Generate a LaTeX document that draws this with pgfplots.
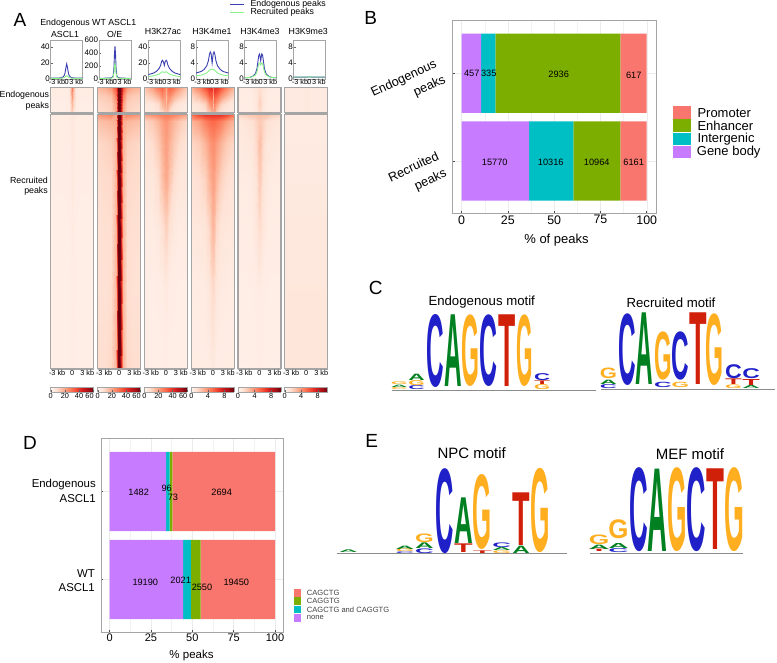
\documentclass[border=0pt]{standalone}
\usepackage{graphicx}
\usepackage{fontspec}
\setmainfont{Liberation Sans}
\newfontfamily\Lfont{Liberation Sans}[BoldFont={Liberation Sans Bold}]
\usepackage{pgfplots}
\usepackage{pgfplotstable}
\pgfplotsset{compat=1.18}
\definecolor{frm}{RGB}{165,165,165}
\definecolor{endo}{RGB}{58,62,176}
\definecolor{recr}{RGB}{160,240,160}
\definecolor{cPro}{RGB}{248,118,109}
\definecolor{cEnh}{RGB}{124,174,0}
\definecolor{cInt}{RGB}{0,191,196}
\definecolor{cGen}{RGB}{199,124,255}
\definecolor{lC}{RGB}{32,32,200}
\definecolor{lA}{RGB}{0,128,32}
\definecolor{lG}{RGB}{255,174,32}
\definecolor{lT}{RGB}{208,32,10}
\newcommand\fs[1]{\fontsize{#1}{#1}\selectfont}
\pgfplotsset{
  colormap={reds}{rgb255=(255,245,240) rgb255=(254,224,210) rgb255=(252,187,161) rgb255=(252,146,114) rgb255=(251,106,74) rgb255=(239,59,44) rgb255=(203,24,29) rgb255=(165,15,21) rgb255=(103,0,13)},
  every axis/.append style={/pgf/number format/assume math mode=true},
  PX/.style 2 args={at={(#1pt,{(663-(#2))*1pt})},anchor=south west,scale only axis},
}
% ---------- small line panels
\newcommand\LP[5]{% xleft, ymax, yticks, xwidth, table
\begin{axis}[PX={#1}{79},width=#4pt,height=39pt,xmin=-3,xmax=3,ymin=0,ymax=#2,
  ytick={#3},xtick={-1.8,0,1.8},xticklabels={-3 kb,0,3 kb},
  axis line style={draw=frm,line width=0.8pt},
  tick style={draw=frm!60!black,line width=0.4pt},major tick length=1.8pt,tick pos=left,
  xtick style={draw=none},
  x tick label style={font=\fs{7.3},inner sep=1pt,yshift=0.5pt},
  y tick label style={font=\fs{8},inner sep=0.8pt},
  scaled y ticks=false]
 \addplot[endo,line width=0.9pt] table[x=x,y=e]{#5};
 \addplot[recr!85!green,line width=0.9pt] table[x=x,y=r]{#5};
\end{axis}}
\pgfplotstableread[row sep=\\]{x e r\\-3 1 .7\\-2 1 .7\\-1.5 1.2 .8\\-1 1.6 1\\-.7 2.5 1.3\\-.5 4 1.8\\-.35 6.5 2.4\\-.2 12 3.2\\-.1 16 3.8\\0 19 4\\.1 16 3.8\\.2 12 3.2\\.35 6.5 2.4\\.5 4 1.8\\.7 2.5 1.3\\1 1.6 1\\1.5 1.2 .8\\2 1 .7\\3 1 .7\\}\lpA
\pgfplotstableread[row sep=\\]{x e r\\-3 12 8\\-2 12 8\\-1.5 14 9\\-1 16 11\\-.7 20 13\\-.5 28 18\\-.35 45 30\\-.2 170 90\\-.1 380 190\\0 505 235\\.1 380 190\\.2 170 90\\.35 45 30\\.5 28 18\\.7 20 13\\1 16 11\\1.5 14 9\\2 12 8\\3 12 8\\}\lpB
\pgfplotstableread[row sep=\\]{x e r\\-3 5.5 3\\-2 7.5 4\\-1.5 9.5 5\\-1 13 6\\-.7 17 7.5\\-.5 22 8.7\\-.35 23.5 9\\-.2 22 8.8\\-.1 20 8.5\\0 17 8.3\\.1 20 8.5\\.2 22 8.8\\.35 23.5 9\\.5 22 8.7\\.7 17 7.5\\1 13 6\\1.5 9.5 5\\2 7.5 4\\3 5.5 3\\}\lpC
\pgfplotstableread[row sep=\\]{x e r\\-3 1.5 .8\\-2 1.9 1\\-1.5 2.4 1.2\\-1 3.3 1.5\\-.7 4.6 1.9\\-.5 6.2 2.2\\-.35 6.8 2.35\\-.2 6.4 2.45\\-.1 5.2 2.45\\0 4 2.4\\.1 5.2 2.45\\.2 6.4 2.45\\.35 6.8 2.35\\.5 6.2 2.2\\.7 4.6 1.9\\1 3.3 1.5\\1.5 2.4 1.2\\2 1.9 1\\3 1.5 .8\\}\lpD
\pgfplotstableread[row sep=\\]{x e r\\-3 .3 .3\\-2 .4 .4\\-1.5 .7 .6\\-1 1.3 1\\-.7 2.6 1.8\\-.5 4.6 3\\-.35 6 3.8\\-.2 6.3 4\\-.1 5.5 3.8\\0 4.6 3.5\\.1 5.5 3.8\\.2 6.3 4\\.35 6 3.8\\.5 4.6 3\\.7 2.6 1.8\\1 1.3 1\\1.5 .7 .6\\2 .4 .4\\3 .3 .3\\}\lpE
\pgfplotstableread[row sep=\\]{x e r\\-3 .45 .5\\-2 .45 .5\\-1.5 .45 .5\\-1 .45 .5\\-.5 .45 .5\\-.2 .5 .52\\0 .58 .55\\.2 .5 .52\\.5 .45 .5\\1 .45 .5\\1.5 .45 .5\\2 .45 .5\\3 .45 .5\\}\lpF
% ---------- heatmaps: one value per row, 11 columns per line of the source
\newcommand\HM[7]{% xleft, ytop, height, max, row count-1 and exponent, tick style, data
\begin{axis}[PX={#1}{#2+#3},width=43pt,height=#3pt,view={0}{90},y dir=reverse,
  xmin=-3,xmax=3,ymin=0,ymax=1,ytick=\empty,colormap name=reds,point meta min=0,point meta max=#4,
  axis on top,axis line style={draw=frm,line width=1.1pt},#6]
 \addplot3[surf,shader=interp,mesh/cols=11,mesh/check=false] table[row sep=\\,header=false,
   x expr={(mod(\coordindex,11)-5)*abs(mod(\coordindex,11)-5)*0.12},
   y expr={(int(\coordindex/11)/#5},z index=0]{#7};
\end{axis}}
\def\ysE{3)}
\def\ysR{6)^2}
\pgfplotsset{noT/.style={xtick=\empty},
  withT/.style={xtick={-2.1,0,2.1},xticklabels={-3 kb,0,3 kb},tick pos=left,major tick length=1.8pt,
    xtick style={draw=none},x tick label style={font=\fs{7.3},inner sep=1pt,yshift=0pt}}}
% ---------- colour bars
\newcommand\CB[4]{% xleft, max, ticks, extra options
\begin{axis}[PX={#1}{392},width=43pt,height=4.7pt,view={0}{90},xmin=0,xmax=#2,ymin=0,ymax=1,ytick=\empty,
  colormap name=reds,point meta min=0,point meta max=#2,xtick={#3},#4,
  extra x tick style={x tick label style={xshift=-3.7pt}},
  axis on top,axis line style={draw=frm,line width=0.5pt},tick pos=left,
  tick style={draw=frm!60!black,line width=0.4pt},major tick length=1.5pt,
  x tick label style={font=\fs{7.3},inner sep=1pt}]
 \addplot3[surf,shader=interp,mesh/cols=2,mesh/check=false] coordinates {(0,0,0)(#2,0,#2)(0,1,0)(#2,1,#2)};
\end{axis}}
% ---------- logo letters, given in the zoom coordinates (3x) with an offset
\newcommand\Lx[8]{\pgfplotsextra{%
  \pgfmathsetmacro\lw{1.12*(#4-#3)/3}\pgfmathsetmacro\lh{(#6-#5)/3}%
  \pgfmathsetmacro\lxc{#1+(#3+#4)/6}\pgfmathsetmacro\lyb{#2+#6/3}%
  \node[anchor=south,inner sep=0pt,outer sep=0pt,text=#8] at (axis cs:\lxc,\lyb)
    {\resizebox*{\lw pt}{\lh pt}{\Lfont\bfseries #7}};}}
\newcommand\LC[6]{\Lx{360}{270}{#1}{#2}{#3}{#4}{#5}{#6}}
\newcommand\LE[6]{\Lx{330}{430}{#1}{#2}{#3}{#4}{#5}{#6}}
\newcommand\TX[4][center]{\node[anchor=#1,inner sep=0pt,text=black] at (axis cs:#2,#3) {#4};}
\newcommand\DB[3]{\node[font=\fs{9.2},inner sep=0pt,text=black] at (axis cs:#1,#2) {#3};}
\begin{document}
\begin{tikzpicture}[x=1pt,y=1pt]
\useasboundingbox (0,0) rectangle (777,663);
%  line panels
\LP{50.7}{49}{0,20,40}{32}{\lpA}
\LP{99}{600}{0,200,400,600}{32}{\lpB}
\LP{148.3}{49}{0,20,40}{32}{\lpC}
\LP{196}{9.8}{0,4,8}{32.3}{\lpD}
\LP{244.7}{9.8}{0,4,8}{32}{\lpE}
\LP{293.7}{9.8}{0,4,8}{31.5}{\lpF}
% heat: endogenous
\HM{50.7}{87.3}{25.7}{60.7}{\ysE}{noT}{%
3\\3\\3\\4\\18\\28\\18\\4\\3\\3\\3\\
3\\3\\3\\4\\14\\22\\14\\4\\3\\3\\3\\
2.5\\2.5\\2.5\\3.5\\11\\16\\11\\3.5\\2.5\\2.5\\2.5\\
2.5\\2.5\\2.5\\3\\8\\12\\8\\3\\2.5\\2.5\\2.5\\}
\HM{97.7}{87.3}{25.7}{60.7}{\ysE}{noT}{%
16\\18\\22\\36\\60\\60.7\\60\\36\\22\\18\\16\\
11\\12\\14\\26\\60\\60.7\\60\\26\\14\\12\\11\\
9\\10\\11\\20\\60\\60.7\\60\\20\\11\\10\\9\\
8\\9\\10\\18\\58\\60.7\\58\\18\\10\\9\\8\\}
\HM{144.3}{87.3}{25.7}{60.7}{\ysE}{noT}{%
12\\20\\28\\32\\26\\20\\26\\32\\28\\20\\12\\
8\\12\\17\\24\\22\\14\\22\\24\\17\\12\\8\\
4\\5\\8\\16\\20\\14\\20\\16\\8\\5\\4\\
3\\4\\5\\8\\14\\12\\14\\8\\5\\4\\3\\}
\HM{191.3}{87.3}{25.7}{10.4}{\ysE}{noT}{%
2.8\\4.4\\6\\7\\7\\5\\7\\7\\6\\4.4\\2.8\\
1.6\\2.6\\3.8\\5.4\\5.8\\3\\5.8\\5.4\\3.8\\2.6\\1.6\\
.8\\1.1\\1.8\\3.6\\4.4\\2.5\\4.4\\3.6\\1.8\\1.1\\.8\\
.6\\.8\\1\\2\\3.4\\2.6\\3.4\\2\\1\\.8\\.6\\}
\HM{238}{87.3}{25.7}{10.4}{\ysE}{noT}{%
.6\\.6\\.7\\1\\1.3\\1.3\\1.3\\1\\.7\\.6\\.6\\
.5\\.5\\.6\\.9\\1.5\\1.5\\1.5\\.9\\.6\\.5\\.5\\
.5\\.5\\.55\\.9\\1.8\\1.8\\1.8\\.9\\.55\\.5\\.5\\
.45\\.45\\.5\\.7\\1.3\\1.3\\1.3\\.7\\.5\\.45\\.45\\}
\HM{284.7}{87.3}{25.7}{10.4}{\ysE}{noT}{%
.7\\.7\\.7\\.7\\.75\\.8\\.75\\.7\\.7\\.7\\.7\\
.7\\.7\\.7\\.7\\.75\\.8\\.75\\.7\\.7\\.7\\.7\\
.7\\.7\\.7\\.7\\.75\\.8\\.75\\.7\\.7\\.7\\.7\\
.7\\.7\\.7\\.7\\.75\\.8\\.75\\.7\\.7\\.7\\.7\\}
% heat: recruited
\HM{50.7}{114.3}{254.7}{60.7}{\ysR}{withT}{%
3\\3\\3\\3.5\\4.5\\5\\4.5\\3.5\\3\\3\\3\\
3\\3\\3\\3.5\\4.5\\5\\4.5\\3.5\\3\\3\\3\\
3\\3\\3\\3.2\\4.2\\4.8\\4.2\\3.2\\3\\3\\3\\
2.8\\2.8\\2.8\\3\\4\\4.5\\4\\3\\2.8\\2.8\\2.8\\
2.5\\2.5\\2.5\\2.7\\3.5\\4\\3.5\\2.7\\2.5\\2.5\\2.5\\
2.5\\2.5\\2.5\\2.5\\3.2\\3.6\\3.2\\2.5\\2.5\\2.5\\2.5\\
2.5\\2.5\\2.5\\2.5\\3\\3.4\\3\\2.5\\2.5\\2.5\\2.5\\}
\HM{97.7}{114.3}{254.7}{60.7}{\ysR}{withT}{%
22\\24\\26\\20\\60\\60.7\\60\\20\\26\\24\\22\\
14\\15\\16\\18\\60\\60.7\\60\\18\\16\\15\\14\\
9\\10\\11\\16\\60\\60.7\\60\\16\\11\\10\\9\\
8\\8.5\\9\\16\\60\\60.7\\60\\16\\9\\8.5\\8\\
7\\7.5\\8\\16\\60\\60.7\\60\\16\\8\\7.5\\7\\
7\\7\\8\\16\\60\\60.7\\60\\16\\8\\7\\7\\
8\\8\\9\\16\\60\\60.7\\60\\16\\9\\8\\8\\}
\HM{144.3}{114.3}{254.7}{60.7}{\ysR}{withT}{%
20\\24\\26\\28\\28\\28\\28\\28\\26\\24\\20\\
9\\12\\16\\20\\22\\22\\22\\20\\16\\12\\9\\
6\\8\\12\\17\\20\\20\\20\\17\\12\\8\\6\\
5\\5\\8\\14\\18\\18\\18\\14\\8\\5\\5\\
3.5\\3.5\\4.5\\7\\10\\11\\10\\7\\4.5\\3.5\\3.5\\
2.5\\2.5\\2.8\\3\\4\\4.5\\4\\3\\2.8\\2.5\\2.5\\
2.5\\2.5\\2.5\\2.5\\3\\3\\3\\2.5\\2.5\\2.5\\2.5\\}
\HM{191.3}{114.3}{254.7}{10.4}{\ysR}{withT}{%
5\\6.5\\7\\7\\7\\7\\7\\7\\7\\6.5\\5\\
2.8\\3.5\\4.5\\5\\5.2\\5.2\\5.2\\5\\4.5\\3.5\\2.8\\
1.6\\2\\2.8\\3.6\\4\\4\\4\\3.6\\2.8\\2\\1.6\\
1.1\\1.3\\1.8\\2.8\\3.4\\3.5\\3.4\\2.8\\1.8\\1.3\\1.1\\
.8\\.9\\1\\1.6\\2.6\\2.7\\2.6\\1.6\\1\\.9\\.8\\
.55\\.6\\.65\\.9\\1.4\\1.5\\1.4\\.9\\.65\\.6\\.55\\
.5\\.5\\.5\\.55\\.7\\.8\\.7\\.55\\.5\\.5\\.5\\}
\HM{238}{114.3}{254.7}{10.4}{\ysR}{withT}{%
1.6\\2\\2.4\\2.4\\2.5\\2.5\\2.5\\2.4\\2.4\\2\\1.6\\
.8\\1\\1.2\\1.7\\2\\2\\2\\1.7\\1.2\\1\\.8\\
.7\\.8\\.9\\1.5\\2.4\\2.4\\2.4\\1.5\\.9\\.8\\.7\\
.6\\.6\\.7\\1.1\\2\\2.1\\2\\1.1\\.7\\.6\\.6\\
.5\\.5\\.6\\.9\\1.4\\1.5\\1.4\\.9\\.6\\.5\\.5\\
.45\\.45\\.45\\.5\\.6\\.6\\.6\\.5\\.45\\.45\\.45\\
.4\\.4\\.4\\.45\\.5\\.5\\.5\\.45\\.4\\.4\\.4\\}
\HM{284.7}{114.3}{254.7}{10.4}{\ysR}{withT}{%
.6\\.6\\.6\\.6\\.6\\.65\\.6\\.6\\.6\\.6\\.6\\
.6\\.6\\.6\\.6\\.6\\.65\\.6\\.6\\.6\\.6\\.6\\
.65\\.65\\.65\\.65\\.65\\.7\\.65\\.65\\.65\\.65\\.65\\
.7\\.7\\.7\\.7\\.7\\.75\\.7\\.7\\.7\\.7\\.7\\
.8\\.8\\.8\\.8\\.8\\.8\\.8\\.8\\.8\\.8\\.8\\
.9\\.9\\.9\\.9\\.9\\.9\\.9\\.9\\.9\\.9\\.9\\
.95\\.95\\.95\\.95\\.95\\.95\\.95\\.95\\.95\\.95\\.95\\}
% colour bars
\CB{50.7}{60.7}{0,20,40}{extra x ticks={60}}
\CB{97.7}{60.7}{0,20,40}{extra x ticks={60}}
\CB{144.3}{60.7}{0,20,40}{extra x ticks={60}}
\CB{191.3}{10.4}{0,4,8}{}
\CB{238}{10.4}{0,4,8}{}
\CB{284.7}{10.4}{0,4,8}{}
% panel B
\begin{axis}[PX={452.3}{213.7},width=203.7pt,height=193pt,xbar stacked,bar width=79.3pt,
  y dir=reverse,xmin=-5,xmax=105,ymin=.4,ymax=2.6,ytick={1,2},yticklabels={,},
  xtick={0,25,50,75,100},minor xtick={12.5,37.5,62.5,87.5},grid=both,
  grid style={draw=black!8,line width=0.4pt},minor grid style={draw=black!5,line width=0.3pt},
  axis line style={draw=frm,line width=0.9pt},tick pos=left,tick style={draw=black!70,line width=0.5pt},
  major tick length=2.5pt,minor tick length=0pt,x tick label style={font=\fs{12.4},inner sep=1.5pt}]
 \addplot[fill=cGen,draw=none] coordinates {(10.52,1)(36.49,2)};
 \addplot[fill=cInt,draw=none] coordinates {(7.71,1)(23.87,2)};
 \addplot[fill=cEnh,draw=none] coordinates {(67.57,1)(25.37,2)};
 \addplot[fill=cPro,draw=none] coordinates {(14.20,1)(14.26,2)};
\end{axis}
% panel D
\begin{axis}[PX={101.3}{632.3},width=182pt,height=193.6pt,xbar stacked,bar width=79.3pt,
  y dir=reverse,xmin=-5,xmax=105,ymin=.4,ymax=2.6,ytick={1,2},yticklabels={,},
  xtick={0,25,50,75,100},minor xtick={12.5,37.5,62.5,87.5},grid=both,
  grid style={draw=black!8,line width=0.4pt},minor grid style={draw=black!5,line width=0.3pt},
  axis line style={draw=frm,line width=0.9pt},tick pos=left,tick style={draw=black!70,line width=0.5pt},
  major tick length=2pt,minor tick length=0pt,x tick label style={font=\fs{11},inner sep=1.5pt}]
 \addplot[fill=cGen,draw=none] coordinates {(34.11,1)(44.41,2)};
 \addplot[fill=cInt,draw=none] coordinates {(2.21,1)(4.68,2)};
 \addplot[fill=cEnh,draw=none] coordinates {(1.68,1)(5.90,2)};
 \addplot[fill=cPro,draw=none] coordinates {(62.0,1)(45.01,2)};
\end{axis}
% overlay: all free text, legends and sequence logos, in image pixels
\begin{axis}[at={(0pt,0pt)},anchor=south west,scale only axis,width=777pt,height=663pt,xmin=0,xmax=777,ymin=0,ymax=663,
  y dir=reverse,hide axis,clip=false]
 % logo baselines
 \addplot[black!45,line width=0.4pt] coordinates {(392,390)(596,390)};
 \addplot[black!45,line width=0.4pt] coordinates {(601,389)(775,389)};
 \addplot[black!45,line width=0.4pt] coordinates {(337,553.3)(567,553.3)};
 \addplot[black!45,line width=0.4pt] coordinates {(590,552.7)(743,552.7)};
 % legend of panel A
 \addplot[endo,line width=0.9pt] coordinates {(230.3,4)(244.3,4)};
 \addplot[recr!85!green,line width=0.9pt] coordinates {(230.3,12.7)(244.3,12.7)};
 \TX[west]{250.3}{4}{\fs{8.8}Endogenous peaks}
 \TX[west]{250.3}{12.7}{\fs{8.8}Recruited peaks}
 % panel letters
 \TX{20}{20}{\fs{19}A}
 \TX{370.7}{18}{\fs{19}B}
 \TX{375.7}{288}{\fs{19}C}
 \TX{30}{443}{\fs{19}D}
 \TX{371.7}{440.7}{\fs{19}E}
 % panel A titles
 \TX{88.3}{23.3}{\fs{8.8}Endogenous WT ASCL1}
 \TX{65}{34}{\fs{8.8}ASCL1}
 \TX{114.7}{34}{\fs{8.8}O/E}
 \TX{163}{31.3}{\fs{8.8}H3K27ac}
 \TX{212}{31.3}{\fs{8.8}H3K4me1}
 \TX{260}{31.3}{\fs{8.8}H3K4me3}
 \TX{308.3}{31.3}{\fs{8.8}H3K9me3}
 \TX[east]{49.3}{95}{\fs{8.8}Endogenous}
 \TX[east]{49.3}{106.7}{\fs{8.8}peaks}
 \TX[east]{48}{180}{\fs{8.8}Recruited}
 \TX[east]{48}{191}{\fs{8.8}peaks}
 % panel B labels
 \node[rotate=25,inner sep=0pt,font=\fs{12.6}] at (axis cs:404,78.7) {Endogenous};
 \node[rotate=25,inner sep=0pt,font=\fs{12.6}] at (axis cs:429.7,86.7) {peaks};
 \node[rotate=25,inner sep=0pt,font=\fs{12.6}] at (axis cs:413.3,166.7) {Recruited};
 \node[rotate=25,inner sep=0pt,font=\fs{12.6}] at (axis cs:430.7,180) {peaks};
 \TX{556.5}{240.5}{\fs{13}\% of peaks}
 \DB{471.7}{73.3}{457}
 \DB{488.7}{73.3}{335}
 \DB{558.7}{74.7}{2936}
 \DB{633.7}{75.3}{617}
 \DB{494.7}{162.7}{15770}
 \DB{550.7}{162.7}{10316}
 \DB{596.7}{162.7}{10964}
 \DB{633.7}{162.7}{6161}
 \fill[cPro] (axis cs:672.7,106) rectangle (axis cs:691,118.7);
 \fill[cEnh] (axis cs:672.7,119.3) rectangle (axis cs:691,131.7);
 \fill[cInt] (axis cs:672.7,132.7) rectangle (axis cs:691,145.3);
 \fill[cGen] (axis cs:672.7,146) rectangle (axis cs:691,158.3);
 \TX[west]{697.3}{113}{\fs{13}Promoter}
 \TX[west]{697.3}{125.7}{\fs{13}Enhancer}
 \TX[west]{697.3}{139}{\fs{13}Intergenic}
 \TX[west]{696.7}{152}{\fs{13}Gene body}
 % panel C
 \TX{481.7}{301.7}{\fs{13.2}Endogenous motif}
 \TX{671}{302.7}{\fs{13.2}Recruited motif}
 % panel D labels
 \TX[east]{96}{484.3}{\fs{11.4}Endogenous}
 \TX[east]{96}{498.3}{\fs{11.4}ASCL1}
 \TX[east]{95}{573.3}{\fs{11.4}WT}
 \TX[east]{95}{587.3}{\fs{11.4}ASCL1}
 \TX{191.5}{656}{\fs{11.5}\% peaks}
 \DB{138.7}{492.7}{1482}
 \DB{166.7}{488.7}{96}
 \DB{173}{497.7}{73}
 \DB{221.7}{492.7}{2694}
 \DB{145.3}{582.7}{19190}
 \DB{180.7}{580.3}{2021}
 \DB{202}{587.7}{2550}
 \DB{236.3}{582.7}{19450}
 \fill[cPro] (axis cs:293.7,589) rectangle (axis cs:301.3,596.8);
 \fill[cEnh] (axis cs:293.7,597.3) rectangle (axis cs:301.3,605);
 \fill[cInt] (axis cs:293.7,605.7) rectangle (axis cs:301.3,613.3);
 \fill[cGen] (axis cs:293.7,614) rectangle (axis cs:301.3,621.7);
 \node[anchor=west,inner sep=0pt,font=\fs{7.6},text=black!75] at (axis cs:306.7,593) {CAGCTG};
 \node[anchor=west,inner sep=0pt,font=\fs{7.6},text=black!75] at (axis cs:306.7,601.3) {CAGGTG};
 \node[anchor=west,inner sep=0pt,font=\fs{7.6},text=black!75] at (axis cs:306.7,609.5) {CAGCTG and CAGGTG};
 \node[anchor=west,inner sep=0pt,font=\fs{7.6},text=black!75] at (axis cs:306.7,617.8) {none};
 % panel E titles
 \TX{471.7}{452.7}{\fs{15}NPC motif}
 \TX{690}{454}{\fs{15}MEF motif}
 % logo C: endogenous
 \LC{95}{140}{352}{358}{C}{lG}
 \LC{95}{140}{345}{352}{A}{lA}
 \LC{95}{140}{337}{345}{G}{lG}
 \LC{148}{192}{348}{360}{C}{lC}
 \LC{148}{192}{332}{347}{G}{lG}
 \LC{148}{192}{312}{331}{A}{lA}
 \LC{203}{250}{133}{352}{C}{lC}
 \LC{255}{302}{135}{350}{A}{lA}
 \LC{308}{356}{135}{350}{G}{lG}
 \LC{362}{410}{135}{350}{C}{lC}
 \LC{417}{463}{135}{350}{T}{lT}
 \LC{472}{516}{135}{350}{G}{lG}
 \LC{525}{568}{345}{360}{G}{lG}
 \LC{525}{568}{333}{344}{T}{lT}
 \LC{525}{568}{310}{331}{C}{lC}
 % logo C: recruited
 \LC{722}{768}{343}{355}{C}{lC}
 \LC{722}{768}{330}{343}{A}{lA}
 \LC{722}{768}{293}{325}{G}{lG}
 \LC{778}{825}{130}{345}{C}{lC}
 \LC{830}{877}{130}{345}{A}{lA}
 \LC{885}{932}{185}{330}{G}{lG}
 \LC{885}{932}{337}{353}{C}{lC}
 \LC{938}{985}{185}{330}{C}{lC}
 \LC{938}{985}{337}{353}{G}{lG}
 \LC{990}{1037}{130}{345}{T}{lT}
 \LC{1040}{1088}{130}{345}{G}{lG}
 \LC{1098}{1143}{345}{356}{G}{lG}
 \LC{1098}{1143}{326}{343}{T}{lT}
 \LC{1098}{1143}{283}{325}{C}{lC}
 \LC{1150}{1197}{347}{356}{A}{lA}
 \LC{1150}{1197}{327}{345}{T}{lT}
 \LC{1150}{1197}{295}{325}{C}{lC}
 % logo E: NPC
 \LE{30}{80}{360}{368}{A}{lA}
 \LE{200}{250}{365}{370}{C}{lC}
 \LE{200}{250}{357}{365}{G}{lG}
 \LE{200}{250}{347}{357}{A}{lA}
 \LE{258}{308}{356}{370}{C}{lC}
 \LE{258}{308}{338}{355}{A}{lA}
 \LE{258}{308}{312}{338}{G}{lG}
 \LE{318}{367}{115}{370}{C}{lC}
 \LE{375}{425}{203}{340}{A}{lA}
 \LE{375}{425}{342}{368}{T}{lT}
 \LE{432}{483}{135}{360}{G}{lG}
 \LE{432}{483}{362}{370}{T}{lT}
 \LE{490}{540}{362}{370}{G}{lG}
 \LE{490}{540}{353}{362}{A}{lA}
 \LE{490}{540}{338}{352}{C}{lC}
 \LE{550}{597}{187}{345}{T}{lT}
 \LE{550}{597}{348}{370}{A}{lA}
 \LE{605}{657}{115}{368}{G}{lG}
 % logo E: MEF
 \LE{780}{835}{358}{365}{T}{lT}
 \LE{780}{835}{345}{358}{A}{lA}
 \LE{780}{835}{316}{345}{G}{lG}
 \LE{838}{892}{355}{367}{C}{lC}
 \LE{838}{892}{340}{355}{A}{lA}
 \LE{838}{892}{268}{325}{G}{lG}
 \LE{900}{950}{113}{365}{C}{lC}
 \LE{957}{1010}{118}{365}{A}{lA}
 \LE{1015}{1067}{113}{365}{G}{lG}
 \LE{1073}{1125}{113}{365}{C}{lC}
 \LE{1132}{1180}{118}{360}{T}{lT}
 \LE{1187}{1240}{113}{365}{G}{lG}
\end{axis}
\end{tikzpicture}
\end{document}
